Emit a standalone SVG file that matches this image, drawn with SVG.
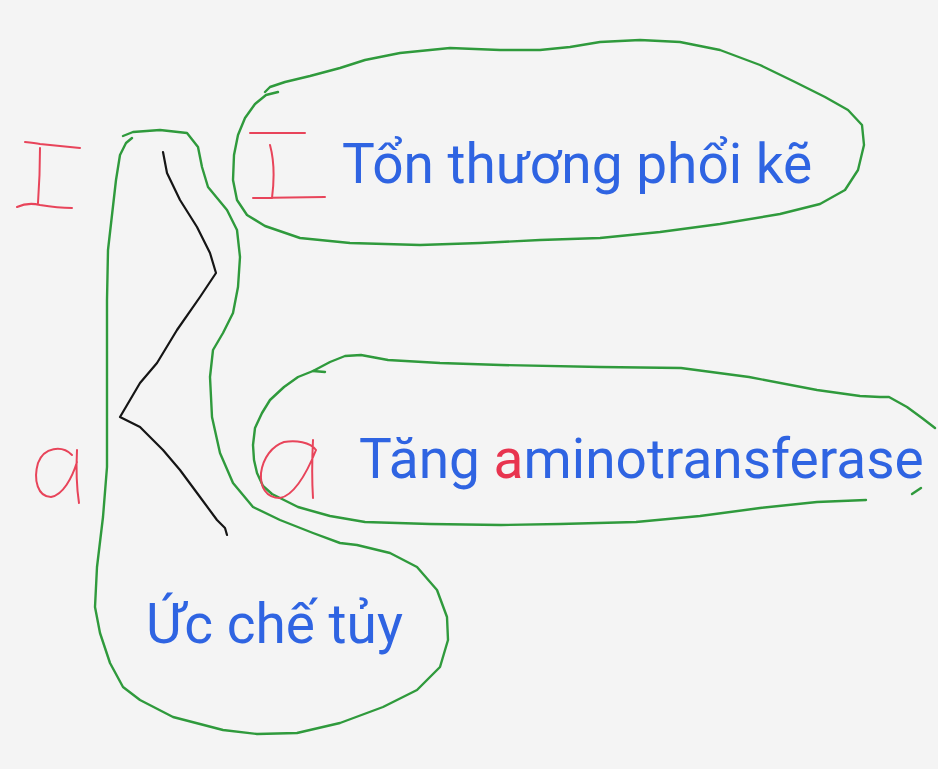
<svg xmlns="http://www.w3.org/2000/svg" width="938" height="769" viewBox="0 0 938 769">
<style>
.loop{fill:none;stroke:#2f9a3c;stroke-width:2.4;stroke-linejoin:round;stroke-linecap:round}
.mark{fill:none;stroke:#e8445a;stroke-width:2;stroke-linejoin:round;stroke-linecap:round}
.ink{fill:none;stroke:#151515;stroke-width:2.2;stroke-linejoin:round;stroke-linecap:round}
.lbl{font-family:Roboto,"Noto Sans",sans-serif;font-size:55px;fill:#2f64e2}
.red{fill:#e8344f}
</style>
<rect width="938" height="769" fill="#f4f4f4"/>
<g id="node-interstitial">
<polyline class="loop" points="278,92 266,95 255,104 245,118 238,135 234,155 233,180 237,200 247,215 265,226 300,238 350,243 420,245 480,243 540,240 600,238 660,232 720,224 780,214 820,204 845,190 858,170 864,145 862,125 848,110 825,97 795,82 760,65 720,50 680,42 640,40 600,42 570,47 540,50 500,50 450,48 400,53 365,60 340,68 310,76 285,82 270,87 265,92"/>
<path class="mark" d="M250,133 L305,133 M270,145 Q276,167 272,198 M253,198 L325,197"/>
<text class="lbl" x="342" y="183">Tổn thương phổi kẽ</text>
</g>
<g id="node-transaminase">
<polyline class="loop" points="325,372 313,371 298,377 284,387 270,400 262,413 255,428 253,445 254,460 257,473 263,486 272,494 298,507 330,516 365,522 430,524 501,525 560,524 636,522 700,516 760,508 817,502 866,500"/>
<polyline class="loop" points="313,371 330,362 345,356 361,355 388,360 440,363 501,365 600,367 681,368 749,377 817,390 860,396 880,397 889,397 907,407 922,418 935,428"/>
<path class="loop" d="M912,494 L921,488"/>
<path class="mark" d="M316,450 C310,442 296,440 284,442 C272,446 263,458 261,473 C260,487 266,498 280,498 C292,496 305,478 316,450 M313,440 C312,460 312,482 313,498"/>
<text class="lbl" x="359" y="478">Tăng <tspan class="red">a</tspan>minotransferase</text>
</g>
<g id="node-marrow">
<polyline class="loop" points="123,136 133,132 160,130 187,133 198,147 202,167 208,187 227,210 237,230 240,257 238,287 233,313 223,333 213,350 210,377 212,417 220,453 233,483 253,507 280,520 313,533 340,543 357,545 390,553 417,567 437,590 447,617 448,640 440,667 417,690 383,707 340,723 297,733 257,734 223,730 173,717 140,700 123,687 110,663 100,633 95,607 97,567 103,517 107,467 107,400 107,300 108,250 112,215 116,180 120,155 126,143 132,138"/>
<text class="lbl" x="146" y="643">Ức chế tủy</text>
</g>
<g id="connectors">
<polyline class="ink" points="163,152 167,173 180,200 197,227 210,253 216,273 200,297 177,330 157,363 140,383 120,417 140,427 163,450 180,470 200,497 217,520 225,528 227,535"/>
</g>
<g id="left-marks">
<path class="mark" d="M25,142 Q35,143 40,144 Q60,146 80,148 M40,148 Q40,175 38,203 M17,207 Q28,202 40,205 Q58,208 72,208"/>
<path class="mark" d="M72,455 C62,445 44,447 38,463 C33,480 38,497 51,497 C63,495 72,478 77,462 M77,450 C76,470 77,490 79,503"/>
</g>
</svg>
